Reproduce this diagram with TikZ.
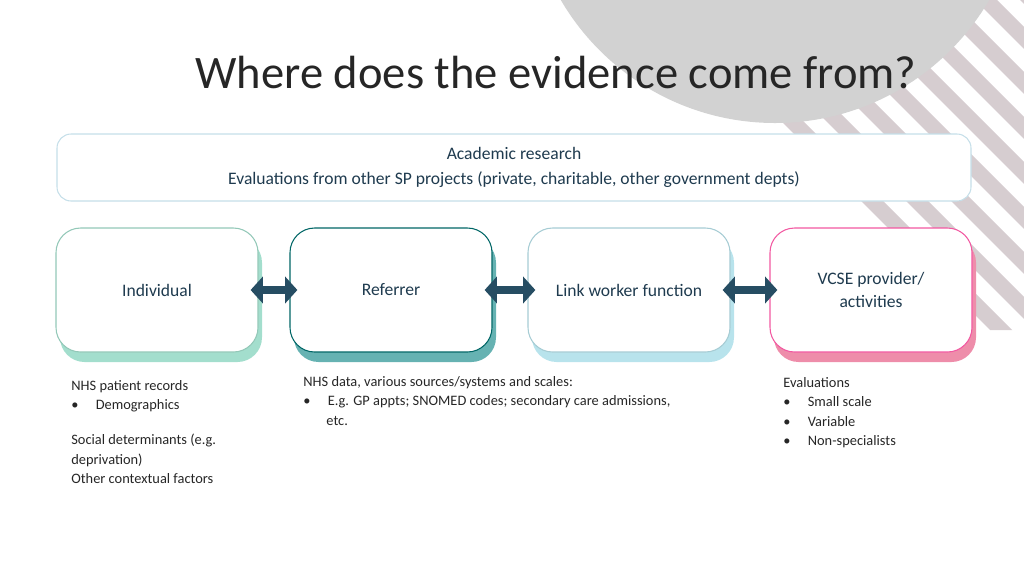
\documentclass[tikz,border=0pt]{standalone}
\usepackage{fontspec}
\setmainfont{Carlito}
\usetikzlibrary{arrows.meta}
\definecolor{ink}{HTML}{1F3B4F}
\definecolor{arrowc}{HTML}{264D63}
\definecolor{stripec}{HTML}{D6CDD0}
\definecolor{mint}{HTML}{A3DECD}
\definecolor{sky}{HTML}{B8E3EC}
\definecolor{rose}{HTML}{EE8DAA}
\begin{document}
\begin{tikzpicture}[x=0.02cm, y=-0.02cm, >={Triangle[width=15pt,length=7pt]}]
    \tikzstyle{stage}=[rounded corners=14pt, draw, fill=white, line width=0.6pt, minimum width=202*0.02cm, minimum height=124*0.02cm, text=ink, font=\fontsize{10}{13}\selectfont, align=center]
    \tikzstyle{link}=[<->, line width=5pt, draw=arrowc, shorten >=-4.5pt, shorten <=-4.5pt]
    \tikzstyle{note}=[anchor=north west, align=left, font=\fontsize{8.2}{11}\selectfont, text=black!85, inner sep=0pt]

    % Fundo
    \useasboundingbox (0,0) rectangle (1024,576);
    \begin{scope}
        \clip (740,0) -- (1024,0) -- (1024,330) -- (840,330) -- cycle;
        \foreach \i in {0,...,16}
            \fill[stripec] (640+\i*45,-20) -- ++(22,0) -- ++(380,380) -- ++(-22,0) -- cycle;
    \end{scope}
    \fill[gray!35] (775,-125) circle (248);

    % Título
    \node[font=\fontsize{26.5}{30}\selectfont, text=black!85] (title) at (556,72) {Where does the evidence come from?};

    % Caixa superior
    \node[rounded corners=8pt, draw=cyan!30!teal!25, fill=white, line width=0.6pt, minimum width=914*0.02cm, minimum height=67*0.02cm, text=ink, font=\fontsize{10}{14}\selectfont, align=center] (top) at (514,167.5)
        {Academic research\\Evaluations from other SP projects (private, charitable, other government depts)};

    % Sombras
    \fill[rounded corners=14pt, fill=mint] (60,238) rectangle (262,362);
    \fill[rounded corners=14pt, fill=teal!60!white] (294,238) rectangle (496,362);
    \fill[rounded corners=14pt, fill=sky] (532,238) rectangle (734,362);
    \fill[rounded corners=14pt, fill=rose] (774,238) rectangle (976,362);

    % Nós
    \node[stage, draw=mint!90!black] (ind) at (157,290) {Individual};
    \node[stage, draw=teal!80!black] (ref) at (391,290) {Referrer};
    \node[stage, draw=sky!90!black] (lwf) at (629,290) {Link worker function};
    \node[stage, draw=magenta!55!pink] (vcse) at (871,290) {VCSE provider/\\activities};

    % Setas
    \draw[link] (ind) -- (ref);
    \draw[link] (ref) -- (lwf);
    \draw[link] (lwf) -- (vcse);

    % Notas
    \node[note] (nind) at (71,380) {NHS patient records\\\textbullet\hspace{1.2em}Demographics\\[1.1em]Social determinants (e.g.\\deprivation)\\Other contextual factors};
    \node[note] (nref) at (303,376) {NHS data, various sources/systems and scales:\\\textbullet\hspace{1.2em}E.g. GP appts; SNOMED codes; secondary care admissions,\\\hspace*{1.6em}etc.};
    \node[note] (nvcse) at (783,377) {Evaluations\\\textbullet\hspace{1.2em}Small scale\\\textbullet\hspace{1.2em}Variable\\\textbullet\hspace{1.2em}Non-specialists};
\end{tikzpicture}
\end{document}
